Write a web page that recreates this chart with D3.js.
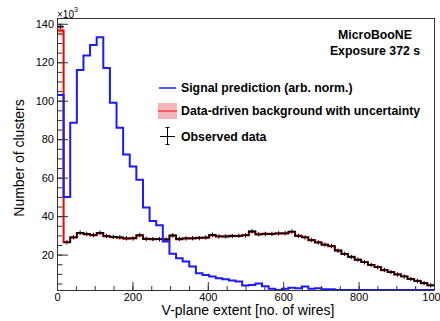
<!DOCTYPE html>
<html><head><meta charset="utf-8">
<script src="https://cdn.jsdelivr.net/npm/d3@7"></script>
<style>
html,body{margin:0;padding:0;background:#fff;}
svg{display:block;font-family:"Liberation Sans",Arial,Helvetica,sans-serif;}
</style>
</head><body><svg id="c" width="440" height="321"></svg>
<script>
// ---- data (57 bins from 0 to 1000 wires, counts in units of 10^3) ----
const xRange = [0, 1000];
const nBins = 57;
const signal = [103, 50, 88.5, 116, 123.5, 129, 133, 117, 99, 86,
  72, 65.8, 58.9, 44.5, 37.5, 35.2, 26.8, 20.5, 18.1, 16.4,
  13.8, 10.3, 9.4, 8.6, 7.7, 7.2, 6.5, 6.0, 4.0, 4.2,
  5.0, 3.5, 2.2, 1.6, 2.3, 2.8, 2.5, 3.4, 2.2, 2.5,
  2.0, 2.0, 1.2, 1.0, 1.1, 0.8, 0.6, 0.5, 0.4, 0.4,
  0.3, 0.3, 0.2, 0.2, 0.2, 0.1, 0.1];
const background = [136.5, 26.4, 28.9, 31.2, 30.6, 30.0, 31.1, 29.6, 29.2, 28.8,
  28.3, 28.6, 29.9, 28.3, 28.0, 28.1, 27.7, 29.8, 28.0, 28.5,
  28.4, 28.8, 28.8, 30.0, 29.5, 29.4, 29.8, 29.7, 30.2, 31.9,
  30.5, 30.9, 30.7, 31.1, 31.0, 31.8, 29.8, 29.1, 27.5, 26.4,
  25.1, 24.3, 22.2, 20.3, 18.9, 17.3, 16.1, 14.6, 13.5, 11.9,
  11.0, 9.6, 8.7, 7.3, 6.4, 5.1, 4.1];
const observed = [138.5, 26.4, 29.0, 31.4, 30.8, 30.2, 31.4, 29.7, 29.2, 29.0,
  28.5, 28.4, 30.2, 28.2, 28.1, 28.0, 27.9, 30.0, 28.2, 28.4,
  28.5, 28.6, 28.9, 30.3, 29.4, 29.5, 29.6, 29.8, 30.0, 32.1,
  30.6, 30.7, 30.8, 31.0, 31.1, 32.0, 29.7, 28.9, 27.6, 26.3,
  25.2, 24.5, 22.0, 20.4, 18.8, 17.4, 16.0, 14.7, 13.4, 12.0,
  10.9, 9.7, 8.6, 7.4, 6.3, 5.2, 4.0];
const bgRelUncertainty = 0.02;
const yRange = [1.6, 143];
const xMajorTicks = [0, 200, 400, 600, 800, 1000];
const xMinorTicks = d3.range(50, 1000, 50);
const yMajorTicks = [20, 40, 60, 80, 100, 120, 140];
const yMinorTicks = d3.range(5, 141, 5);
const legendLabels = ["Signal prediction (arb. norm.)", "Data-driven background with uncertainty", "Observed data"];
const infoLines = ["MicroBooNE", "Exposure 372 s"];
const xTitle = "V-plane extent [no. of wires]";
const yTitle = "Number of clusters";

// ---- layout ----
const L = 57, R = 434, T = 18, B = 290;
const svg = d3.select("#c");
const x = d3.scaleLinear().domain(xRange).range([L, R]);
const y = d3.scaleLinear().domain(yRange).range([B, T]).clamp(true);
const edges = d3.range(nBins + 1).map(i => xRange[0] + i * (xRange[1] - xRange[0]) / nBins);

svg.append("defs").append("clipPath").attr("id", "pc")
  .append("rect").attr("x", L).attr("y", T).attr("width", R - L).attr("height", B - T + 2);
const plot = svg.append("g").attr("clip-path", "url(#pc)");

// uncertainty band
plot.selectAll("rect.band").data(background).join("rect").attr("class", "band")
  .attr("x", (d, i) => x(edges[i]))
  .attr("width", (d, i) => x(edges[i + 1]) - x(edges[i]))
  .attr("y", d => y(d * (1 + bgRelUncertainty)))
  .attr("height", d => y(d * (1 - bgRelUncertainty)) - y(d * (1 + bgRelUncertainty)))
  .attr("fill", "#f4b5ba");

const stepLine = d3.line().x(d => x(d[0])).y(d => y(d[1])).curve(d3.curveStepAfter);
function stepPoints(vals, startIdx, fromAxis) {
  const pts = [];
  if (fromAxis) pts.push([edges[startIdx], yRange[0]]);
  for (let i = startIdx; i < vals.length; i++) pts.push([edges[i], vals[i]]);
  pts.push([edges[vals.length], vals[vals.length - 1]]);
  return pts;
}

// background histogram
plot.append("path").attr("d", stepLine(stepPoints(background, 0, true)))
  .attr("fill", "none").attr("stroke", "#f00").attr("stroke-width", 2);

// observed data: first bin as separate marker, rest as connected step
plot.append("line")
  .attr("x1", x(edges[0])).attr("x2", x(edges[1]))
  .attr("y1", y(observed[0])).attr("y2", y(observed[0]))
  .attr("stroke", "#000").attr("stroke-width", 1.6);
plot.append("path").attr("d", stepLine(stepPoints(observed, 1, false)))
  .attr("fill", "none").attr("stroke", "#000").attr("stroke-width", 1.6);
plot.selectAll("line.err").data(observed).join("line").attr("class", "err")
  .attr("x1", (d, i) => x((edges[i] + edges[i + 1]) / 2))
  .attr("x2", (d, i) => x((edges[i] + edges[i + 1]) / 2))
  .attr("y1", d => y(d) - 2.2).attr("y2", d => y(d) + 2.2)
  .attr("stroke", "#000").attr("stroke-width", 1);

// signal histogram
plot.append("path").attr("d", stepLine(stepPoints(signal, 0, true)))
  .attr("fill", "none").attr("stroke", "#1a1aff").attr("stroke-width", 2);

// ---- axes ----
const axisColor = "#333";
const yAx = svg.append("g").attr("transform", `translate(${L},0)`)
  .call(d3.axisLeft(y).tickValues(yMajorTicks).tickSize(-11).tickSizeOuter(0).tickPadding(3).tickFormat(d3.format("d")));
const yMin = svg.append("g").attr("transform", `translate(${L},0)`)
  .call(d3.axisLeft(y).tickValues(yMinorTicks).tickSize(-5.5).tickSizeOuter(0).tickFormat(""));
const xAx = svg.append("g").attr("transform", `translate(0,${B})`)
  .call(d3.axisBottom(x).tickValues(xMajorTicks).tickSize(-8).tickSizeOuter(0).tickPadding(3).tickFormat(d3.format("d")));
const xMin = svg.append("g").attr("transform", `translate(0,${B})`)
  .call(d3.axisBottom(x).tickValues(xMinorTicks).tickSize(-4).tickSizeOuter(0).tickFormat(""));
[yAx, yMin, xAx, xMin].forEach(g => {
  g.selectAll("path,line").attr("stroke", axisColor).attr("stroke-width", 1);
  g.selectAll("text").attr("fill", "#000").attr("font-size", 11)
    .attr("font-family", '"Liberation Sans",Arial,sans-serif');
});
// frame top/right
svg.append("line").attr("x1", L).attr("x2", R).attr("y1", T + 0.5).attr("y2", T + 0.5)
  .attr("stroke", axisColor);
svg.append("line").attr("x1", R + 0.5).attr("x2", R + 0.5).attr("y1", T).attr("y2", B)
  .attr("stroke", axisColor);

// x10^3
const exp = svg.append("text").attr("x", L).attr("y", 18).attr("font-size", 10).attr("fill", "#000");
exp.append("tspan").text("\u00d710");
exp.append("tspan").attr("dy", -6).attr("font-size", 7).text("3");

// titles
svg.append("text").attr("x", 248).attr("y", 315).attr("text-anchor", "middle")
  .attr("font-size", 14).attr("fill", "#000").text(xTitle);
svg.append("text").attr("transform", "translate(24,158) rotate(-90)").attr("text-anchor", "middle")
  .attr("font-size", 14).attr("fill", "#000").text(yTitle);

// info text
infoLines.forEach((t, i) => {
  svg.append("text").attr("x", 375).attr("y", 39 + i * 15.5).attr("text-anchor", "middle")
    .attr("font-size", 12.3).attr("font-weight", "bold").attr("fill", "#000").text(t);
});

// legend
const lg = svg.append("g");
const ly = [88, 111, 136.5];
lg.append("line").attr("x1", 159).attr("x2", 176).attr("y1", ly[0]).attr("y2", ly[0])
  .attr("stroke", "#1a1aff").attr("stroke-width", 1.5);
lg.append("rect").attr("x", 158).attr("y", 103).attr("width", 19).attr("height", 16).attr("fill", "#f4b5ba");
lg.append("line").attr("x1", 158).attr("x2", 177).attr("y1", ly[1]).attr("y2", ly[1])
  .attr("stroke", "#f00").attr("stroke-width", 1);
lg.append("line").attr("x1", 160).attr("x2", 175).attr("y1", ly[2]).attr("y2", ly[2]).attr("stroke", "#000");
lg.append("line").attr("x1", 167.5).attr("x2", 167.5).attr("y1", 127).attr("y2", 145).attr("stroke", "#000");
lg.append("line").attr("x1", 165.5).attr("x2", 169.5).attr("y1", 127.5).attr("y2", 127.5).attr("stroke", "#000");
lg.append("line").attr("x1", 165.5).attr("x2", 169.5).attr("y1", 144.5).attr("y2", 144.5).attr("stroke", "#000");
legendLabels.forEach((t, i) => {
  lg.append("text").attr("x", 181).attr("y", ly[i]).attr("dy", "0.36em")
    .attr("font-size", 12.3).attr("font-weight", "bold").attr("fill", "#000").text(t);
});
</script>
</body></html>
